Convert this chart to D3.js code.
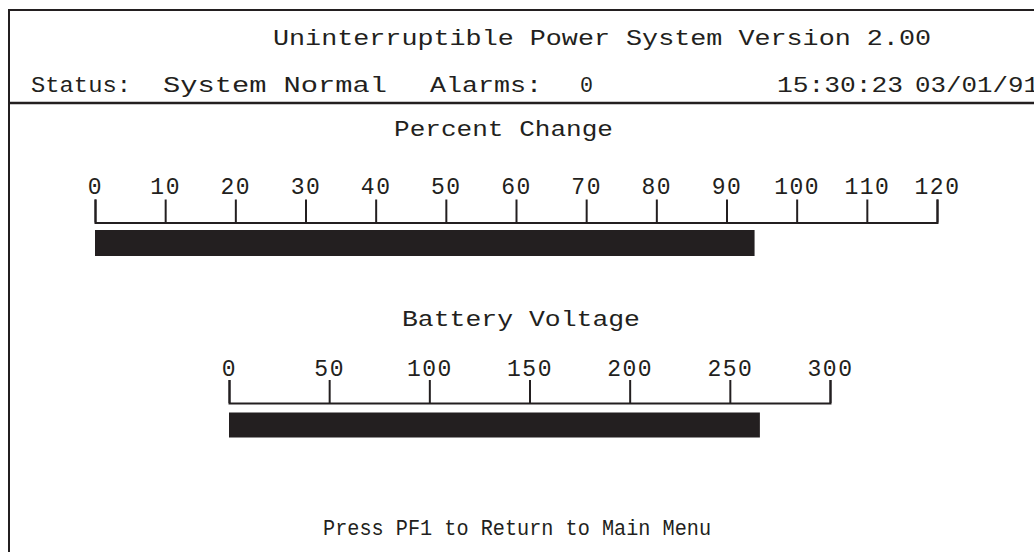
<!DOCTYPE html>
<html>
<head>
<meta charset="utf-8">
<title>UPS Status</title>
<script src="https://d3js.org/d3.v7.min.js"></script>
<style>
  body { margin: 0; background: #fff; }
  svg text { font-family: "Liberation Mono", "Courier New", monospace; fill: #231f20; }
</style>
</head>
<body>
<div id="chart"></div>
<script>
  // screen texts
  const titleText = "Uninterruptible Power System Version 2.00";
  const statusLabel = "Status:";
  const statusValue = "System Normal";
  const alarmsLabel = "Alarms:";
  const alarmsValue = "0";
  const clockText = "15:30:23 03/01/91";
  const footerText = "Press PF1 to Return to Main Menu";

  // gauges
  const gaugeNames = ["Percent Change", "Battery Voltage"];
  const gaugeValues = [94, 265];
  const gaugeMax = [120, 300];
  const pctTicks = [0, 10, 20, 30, 40, 50, 60, 70, 80, 90, 100, 110, 120];
  const voltTicks = [0, 50, 100, 150, 200, 250, 300];
  const gaugeTicks = [pctTicks, voltTicks];

  const width = 1034, height = 552;
  const ink = "#231f20";

  // where each gauge sits on the screen
  const layout = [
    { x0: 95, x1: 937, axisY: 222.5, titleX: 394, titleW: 219, titleY: 136, barTop: 230, barH: 26, pad: 5.5 },
    { x0: 229, x1: 830, axisY: 403, titleX: 402, titleW: 238, titleY: 326, barTop: 412.5, barH: 25, pad: 4 }
  ];

  const svg = d3.select("#chart").append("svg")
    .attr("width", width)
    .attr("height", height);

  // frame
  svg.append("line").attr("x1", 9).attr("x2", width).attr("y1", 10).attr("y2", 10)
    .attr("stroke", ink).attr("stroke-width", 2);
  svg.append("line").attr("x1", 9).attr("x2", 9).attr("y1", 9).attr("y2", height)
    .attr("stroke", ink).attr("stroke-width", 2);
  svg.append("line").attr("x1", 9).attr("x2", width).attr("y1", 103).attr("y2", 103)
    .attr("stroke", ink).attr("stroke-width", 2.5);

  function label(str, x, y, w, size) {
    const t = svg.append("text")
      .attr("x", x).attr("y", y)
      .attr("font-size", size || 22)
      .text(str);
    if (w) t.attr("textLength", w).attr("lengthAdjust", "spacingAndGlyphs");
    return t;
  }

  label(titleText, 273, 45, 658);
  label(statusLabel, 31, 92, 100);
  label(statusValue, 163, 92, 224);
  label(alarmsLabel, 430, 92, 112);
  label(alarmsValue, 580, 92, 13);
  const clock = clockText.split(" ");
  label(clock[0], 777, 92, 126);
  label(clock[1], 915, 92, 124);
  label(footerText, 323, 535, 388);

  gaugeNames.forEach((name, i) => {
    const L = layout[i];
    const x = d3.scaleLinear().domain([0, gaugeMax[i]]).range([L.x0, L.x1]);

    label(name, L.titleX, L.titleY, L.titleW);

    const axis = d3.axisTop(x)
      .tickValues(gaugeTicks[i])
      .tickFormat(d3.format("d"))
      .tickSize(23)
      .tickPadding(L.pad);

    const g = svg.append("g")
      .attr("transform", `translate(0,${L.axisY})`)
      .call(axis);

    g.select(".domain").attr("stroke", ink).attr("stroke-width", 2);
    g.selectAll(".tick line").attr("stroke", ink).attr("stroke-width", 2);
    g.selectAll(".tick text")
      .attr("font-family", "Liberation Mono, monospace")
      .attr("font-size", 23)
      .attr("letter-spacing", 1.5)
      .attr("fill", ink);
    g.attr("font-family", null).attr("font-size", null);

    svg.append("rect")
      .attr("x", x(0))
      .attr("y", L.barTop)
      .attr("width", x(gaugeValues[i]) - x(0))
      .attr("height", L.barH)
      .attr("fill", ink);
  });
</script>
</body>
</html>
